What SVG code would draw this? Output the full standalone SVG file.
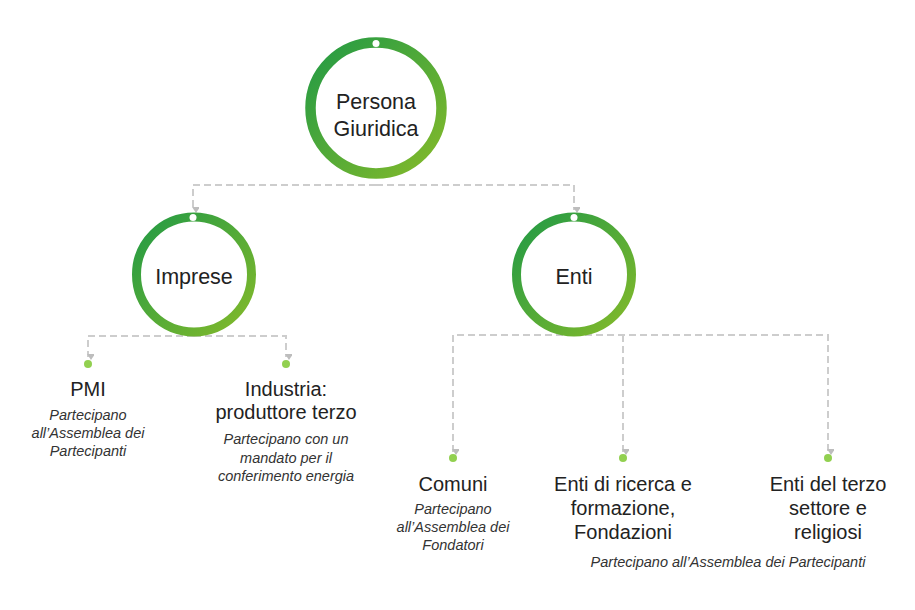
<svg xmlns="http://www.w3.org/2000/svg" width="915" height="610" viewBox="0 0 915 610">
<defs>
<linearGradient id="ring" x1="0" y1="0" x2="1" y2="1">
<stop offset="0" stop-color="#229a45"/>
<stop offset="1" stop-color="#84ba2a"/>
</linearGradient>
<marker id="arr" markerUnits="userSpaceOnUse" markerWidth="8" markerHeight="7" refX="4" refY="6" orient="auto-start-reverse" viewBox="0 0 8 7">
<path d="M0,0 L8,0 L4,6 Z" fill="#bdbdbd" transform="rotate(-90 4 3)"/>
</marker>
<style>
.ring{fill:#fff;stroke:url(#ring)}
.hole{fill:#fff}
.con{fill:none;stroke:#cdcdcd;stroke-width:2;stroke-dasharray:7 4;marker-end:url(#arr)}
.dot{fill:#92d050}
.t{font-family:"Liberation Sans",Arial,sans-serif;font-size:20px;fill:#222;text-anchor:middle}
.c{font-size:21.5px}
.i{font-family:"Liberation Sans",Arial,sans-serif;font-size:14.5px;font-style:italic;fill:#333;text-anchor:middle}
</style>
</defs>
<g id="connectors">
<path class="con" d="M376,185 H193 V210"/>
<path class="con" d="M376,185 H574 V210"/>
<path class="con" d="M194,336 H88 V357"/>
<path class="con" d="M194,336 H286 V357"/>
<path class="con" d="M574,335 H453 V452"/>
<path class="con" d="M623,335 V452"/>
<path class="con" d="M574,335 H828 V452"/>
</g>
<g id="persona-giuridica">
<circle class="ring" cx="376" cy="108" r="65.5" stroke-width="10.5"/>
<circle class="hole" cx="376" cy="43.5" r="3.5"/>
<text class="t c" x="376" y="109">Persona</text>
<text class="t c" x="376" y="136">Giuridica</text>
</g>
<g id="imprese">
<circle class="ring" cx="194" cy="274.5" r="57.5" stroke-width="9"/>
<circle class="hole" cx="193" cy="217.5" r="3.5"/>
<text class="t c" x="194" y="284">Imprese</text>
</g>
<g id="enti">
<circle class="ring" cx="574" cy="274.5" r="57.5" stroke-width="9"/>
<circle class="hole" cx="574" cy="217.5" r="3.5"/>
<text class="t c" x="574" y="284">Enti</text>
</g>
<g id="pmi">
<circle class="dot" cx="88" cy="364" r="4"/>
<text class="t" x="88" y="396">PMI</text>
<text class="i" x="88" y="420">Partecipano</text>
<text class="i" x="88" y="438">all’Assemblea dei</text>
<text class="i" x="88" y="456">Partecipanti</text>
</g>
<g id="industria">
<circle class="dot" cx="286" cy="364" r="4"/>
<text class="t" x="286" y="396">Industria:</text>
<text class="t" x="286" y="419">produttore terzo</text>
<text class="i" x="286" y="444">Partecipano con un</text>
<text class="i" x="286" y="462.5">mandato per il</text>
<text class="i" x="286" y="481">conferimento energia</text>
</g>
<g id="comuni">
<circle class="dot" cx="453" cy="458" r="4"/>
<text class="t" x="453" y="491">Comuni</text>
<text class="i" x="453" y="514">Partecipano</text>
<text class="i" x="453" y="532">all’Assemblea dei</text>
<text class="i" x="453" y="550">Fondatori</text>
</g>
<g id="enti-ricerca">
<circle class="dot" cx="623" cy="458" r="4"/>
<text class="t" x="623" y="491">Enti di ricerca e</text>
<text class="t" x="623" y="515">formazione,</text>
<text class="t" x="623" y="539">Fondazioni</text>
</g>
<g id="enti-terzo-settore">
<circle class="dot" cx="828" cy="458" r="4"/>
<text class="t" x="828" y="491">Enti del terzo</text>
<text class="t" x="828" y="515">settore e</text>
<text class="t" x="828" y="539">religiosi</text>
</g>
<text class="i" x="728" y="567">Partecipano all’Assemblea dei Partecipanti</text>
</svg>
